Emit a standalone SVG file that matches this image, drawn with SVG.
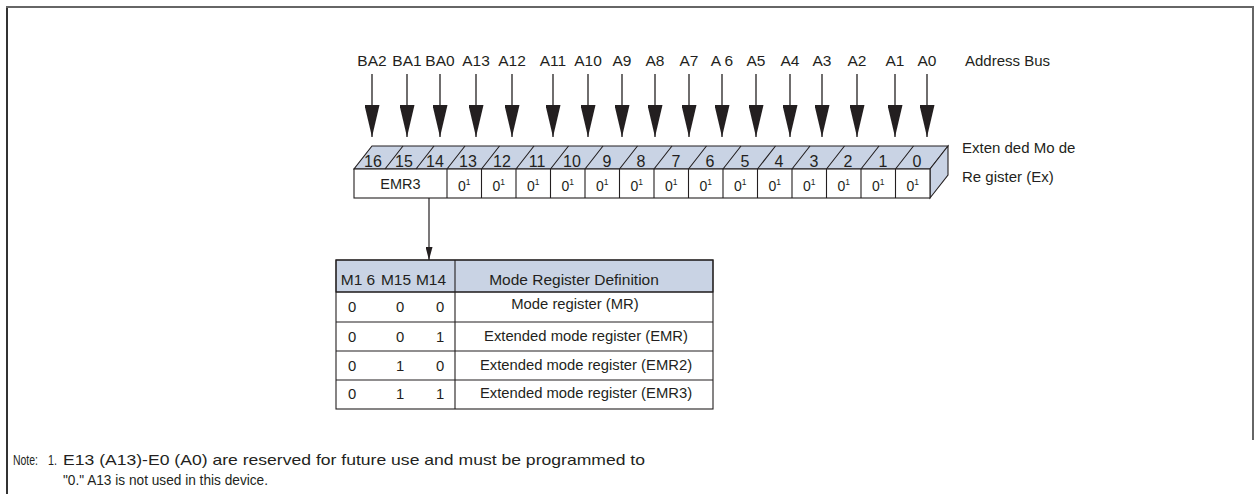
<svg xmlns="http://www.w3.org/2000/svg" width="1257" height="494" viewBox="0 0 1257 494">
<defs>
<style>
text{font-family:"Liberation Sans",Arial,sans-serif;fill:#231F20}
.lbl{font-size:15.5px;text-anchor:middle}
.side{font-size:15px}
.num{font-size:16px;text-anchor:middle}
.bit{font-size:14px;text-anchor:middle}
.emr{font-size:14.5px;text-anchor:middle}
.hdr{font-size:15.5px;text-anchor:middle}
.cell{font-size:14.8px;text-anchor:middle}
.note{font-size:15px}
.ln{stroke:#231F20;stroke-width:1.1;fill:none}
.face{fill:#C9D3E4;stroke:#231F20;stroke-width:1.1}
.wf{fill:#FFFFFF;stroke:#231F20;stroke-width:1.1}
.bus{stroke:#231F20;stroke-width:1.3;marker-end:url(#big)}
</style>
<marker id="big" viewBox="0 0 32 15" refX="32" refY="7.5" markerWidth="32" markerHeight="15" markerUnits="userSpaceOnUse" orient="auto">
<path d="M0,0 L32,7.5 L0,15 Z" fill="#231F20"/>
</marker>
<marker id="small" viewBox="0 0 13 7" refX="13" refY="3.5" markerWidth="13" markerHeight="7" markerUnits="userSpaceOnUse" orient="auto">
<path d="M0,0 L13,3.5 L0,7 Z" fill="#231F20"/>
</marker>
</defs>
<rect width="1257" height="494" fill="#FFFFFF"/>
<g id="frame">
<path d="M7,494 V7" stroke="#333333" stroke-width="2" fill="none"/>
<path d="M6,7 H1253 V440" stroke="#666666" stroke-width="2" fill="none"/>
</g>
<g id="address-bus">
<text class="lbl" x="372" y="66">BA2</text>
<text class="lbl" x="407" y="66">BA1</text>
<text class="lbl" x="440" y="66">BA0</text>
<text class="lbl" x="476" y="66">A13</text>
<text class="lbl" x="512" y="66">A12</text>
<text class="lbl" x="553" y="66">A11</text>
<text class="lbl" x="588" y="66">A10</text>
<text class="lbl" x="622" y="66">A9</text>
<text class="lbl" x="655" y="66">A8</text>
<text class="lbl" x="689" y="66">A7</text>
<text class="lbl" x="722" y="66">A 6</text>
<text class="lbl" x="756" y="66">A5</text>
<text class="lbl" x="790" y="66">A4</text>
<text class="lbl" x="822" y="66">A3</text>
<text class="lbl" x="857" y="66">A2</text>
<text class="lbl" x="895" y="66">A1</text>
<text class="lbl" x="927" y="66">A0</text>
<text class="side" x="965" y="66">Address Bus</text>
</g>
<g id="connectors">
<line class="bus" x1="372" y1="74" x2="372" y2="137"/>
<line class="bus" x1="407" y1="74" x2="407" y2="137"/>
<line class="bus" x1="440" y1="74" x2="440" y2="137"/>
<line class="bus" x1="476" y1="74" x2="476" y2="137"/>
<line class="bus" x1="512" y1="74" x2="512" y2="137"/>
<line class="bus" x1="553" y1="74" x2="553" y2="137"/>
<line class="bus" x1="588" y1="74" x2="588" y2="137"/>
<line class="bus" x1="622" y1="74" x2="622" y2="137"/>
<line class="bus" x1="655" y1="74" x2="655" y2="137"/>
<line class="bus" x1="689" y1="74" x2="689" y2="137"/>
<line class="bus" x1="722" y1="74" x2="722" y2="137"/>
<line class="bus" x1="756" y1="74" x2="756" y2="137"/>
<line class="bus" x1="790" y1="74" x2="790" y2="137"/>
<line class="bus" x1="822" y1="74" x2="822" y2="137"/>
<line class="bus" x1="857" y1="74" x2="857" y2="137"/>
<line class="bus" x1="895" y1="74" x2="895" y2="137"/>
<line class="bus" x1="927" y1="74" x2="927" y2="137"/>
<line x1="429" y1="198" x2="429" y2="260" stroke="#231F20" stroke-width="1.2" marker-end="url(#small)"/>
</g>
<g id="register">
<polygon class="face" points="354,169 930,169 948,146 372,146"/>
<polygon class="face" points="930,169 948,146 948,175 930,198"/>
<rect class="wf" x="354" y="169" width="576" height="29"/>
<path class="ln" d="M385,169 l18,-23 M416,169 l18,-23 M447,169 l18,-23 M481.5,169 l18,-23 M516,169 l18,-23 M550.5,169 l18,-23 M585,169 l18,-23 M619.5,169 l18,-23 M654,169 l18,-23 M688.5,169 l18,-23 M723,169 l18,-23 M757.5,169 l18,-23 M792,169 l18,-23 M826.5,169 l18,-23 M861,169 l18,-23 M895.5,169 l18,-23"/>
<path class="ln" d="M447,169 V198 M481.5,169 V198 M516,169 V198 M550.5,169 V198 M585,169 V198 M619.5,169 V198 M654,169 V198 M688.5,169 V198 M723,169 V198 M757.5,169 V198 M792,169 V198 M826.5,169 V198 M861,169 V198 M895.5,169 V198"/>
<text class="num" x="373" y="167">16</text>
<text class="num" x="404" y="167">15</text>
<text class="num" x="435" y="167">14</text>
<text class="num" x="468" y="167">13</text>
<text class="num" x="502" y="167">12</text>
<text class="num" x="537" y="167">11</text>
<text class="num" x="572" y="167">10</text>
<text class="num" x="607" y="167">9</text>
<text class="num" x="641" y="167">8</text>
<text class="num" x="676" y="167">7</text>
<text class="num" x="710" y="167">6</text>
<text class="num" x="745" y="167">5</text>
<text class="num" x="779" y="167">4</text>
<text class="num" x="814" y="167">3</text>
<text class="num" x="848" y="167">2</text>
<text class="num" x="883" y="167">1</text>
<text class="num" x="917" y="167">0</text>
<text class="emr" x="400.5" y="188.5">EMR3</text>
<text class="bit" x="464.25" y="190.5">0<tspan font-size="8.5" dy="-6">1</tspan></text>
<text class="bit" x="498.75" y="190.5">0<tspan font-size="8.5" dy="-6">1</tspan></text>
<text class="bit" x="533.25" y="190.5">0<tspan font-size="8.5" dy="-6">1</tspan></text>
<text class="bit" x="567.75" y="190.5">0<tspan font-size="8.5" dy="-6">1</tspan></text>
<text class="bit" x="602.25" y="190.5">0<tspan font-size="8.5" dy="-6">1</tspan></text>
<text class="bit" x="636.75" y="190.5">0<tspan font-size="8.5" dy="-6">1</tspan></text>
<text class="bit" x="671.25" y="190.5">0<tspan font-size="8.5" dy="-6">1</tspan></text>
<text class="bit" x="705.75" y="190.5">0<tspan font-size="8.5" dy="-6">1</tspan></text>
<text class="bit" x="740.25" y="190.5">0<tspan font-size="8.5" dy="-6">1</tspan></text>
<text class="bit" x="774.75" y="190.5">0<tspan font-size="8.5" dy="-6">1</tspan></text>
<text class="bit" x="809.25" y="190.5">0<tspan font-size="8.5" dy="-6">1</tspan></text>
<text class="bit" x="843.75" y="190.5">0<tspan font-size="8.5" dy="-6">1</tspan></text>
<text class="bit" x="878.25" y="190.5">0<tspan font-size="8.5" dy="-6">1</tspan></text>
<text class="bit" x="912.75" y="190.5">0<tspan font-size="8.5" dy="-6">1</tspan></text>
<text class="side" x="962" y="153">Exten ded Mo de</text>
<text class="side" x="962" y="182">Re gister (Ex)</text>
</g>
<g id="mode-table">
<rect class="face" x="336" y="260" width="377" height="32"/>
<rect class="ln" x="336" y="260" width="377" height="149"/>
<path class="ln" d="M336,292 H713 M336,322 H713 M336,351 H713 M336,380 H713 M455,260 V409"/>
<text class="hdr" x="358" y="285">M1 6</text>
<text class="hdr" x="396" y="285">M15</text>
<text class="hdr" x="431" y="285">M14</text>
<text class="hdr" x="574" y="285">Mode Register Definition</text>
<text class="cell" x="352" y="312">0</text>
<text class="cell" x="400" y="312">0</text>
<text class="cell" x="440" y="312">0</text>
<text class="cell" x="575" y="309">Mode register (MR)</text>
<text class="cell" x="352" y="342">0</text>
<text class="cell" x="400" y="342">0</text>
<text class="cell" x="440" y="342">1</text>
<text class="cell" x="586" y="341">Extended mode register (EMR)</text>
<text class="cell" x="352" y="371">0</text>
<text class="cell" x="400" y="371">1</text>
<text class="cell" x="440" y="371">0</text>
<text class="cell" x="586" y="370">Extended mode register (EMR2)</text>
<text class="cell" x="352" y="399">0</text>
<text class="cell" x="400" y="399">1</text>
<text class="cell" x="440" y="399">1</text>
<text class="cell" x="586" y="398">Extended mode register (EMR3)</text>
</g>
<g id="note">
<text class="note" x="13" y="465" textLength="25" lengthAdjust="spacingAndGlyphs">Note:</text>
<text class="note" x="48" y="465" textLength="9" lengthAdjust="spacingAndGlyphs">1.</text>
<text class="note" x="63" y="465" textLength="582" lengthAdjust="spacingAndGlyphs">E13 (A13)-E0 (A0) are reserved for future use and must be programmed to</text>
<text class="note" x="63" y="485" textLength="205" lengthAdjust="spacingAndGlyphs">"0." A13 is not used in this device.</text>
</g>
</svg>
